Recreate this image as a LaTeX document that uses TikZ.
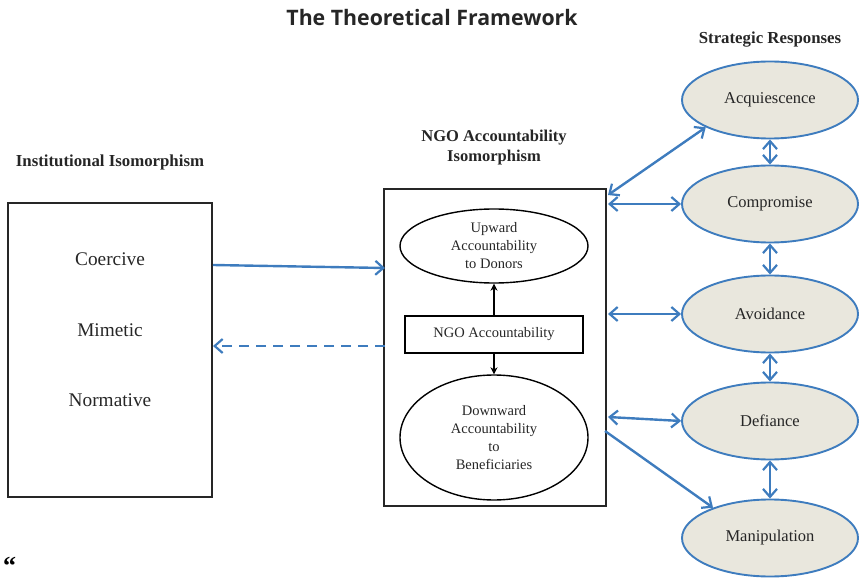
\documentclass[tikz,border=0pt]{standalone}
\usepackage{fontspec}
\setmainfont{Liberation Serif}
\newfontfamily\titlefont{Open Sans}
\usetikzlibrary{arrows.meta,shapes.geometric}
\definecolor{lineblue}{RGB}{62,124,190}
\definecolor{beige}{RGB}{233,231,221}
\tikzset{
  barb/.tip={Straight Barb[length=8pt,width=14pt,line width=2.2pt]},
  bluearrow/.style={draw=lineblue,line width=2.4pt,-{barb}},
  bluedbl/.style={draw=lineblue,line width=2.4pt,{barb}-{barb}},
  blackarrow/.style={draw=black,line width=1.3pt,-{Stealth[length=7pt,width=7pt]}},
  resp/.style={ellipse,draw=lineblue,line width=1.9pt,fill=beige,minimum width=176pt,minimum height=77pt,inner sep=0pt,font=\fontsize{16.5}{19}\selectfont,text=black!85},
  inner/.style={ellipse,draw=black,line width=1.4pt,minimum width=188pt,inner sep=0pt,align=center,font=\fontsize{14.5}{18}\selectfont,text=black!85},
  bigbox/.style={draw=black!85,line width=2.3pt},
  head/.style={font=\bfseries\fontsize{16.8}{20}\selectfont,align=center,text=black!85},
  plain/.style={font=\fontsize{19.3}{22}\selectfont,text=black!85}
}
\begin{document}
\begin{tikzpicture}[x=1pt,y=-1pt]
\useasboundingbox (0,0) rectangle (860,580);
% title and headers
\node[font=\titlefont\bfseries\fontsize{21.3}{24}\selectfont,text=black!85] (title) at (432,18) {The Theoretical Framework};
\node[head] (sr) at (770,40) {Strategic Responses};
\node[head] (ii) at (110,162) {Institutional Isomorphism};
\node[head,font=\bfseries\fontsize{16.5}{20}\selectfont] (ngoh) at (494,148) {NGO Accountability\\Isomorphism};
% left box
\draw[bigbox] (8,203) rectangle (212,497);
\coordinate (lbR1) at (213,265);
\coordinate (lbR2) at (213,346);
\node[plain] (coe) at (110,259) {Coercive};
\node[plain] (mim) at (110,330) {Mimetic};
\node[plain] (nor) at (110,400) {Normative};
% middle box
\draw[bigbox] (384,189) rectangle (606,506);
\coordinate (mbL1) at (385,268);
\coordinate (mbL2) at (385,346);
\node[inner,minimum height=74pt] (up) at (494,246) {Upward\\Accountability\\to Donors};
\node[draw=black,line width=1.4pt,minimum width=178pt,minimum height=37pt,inner sep=0pt,font=\fontsize{14.5}{18}\selectfont,text=black!85] (ngo) at (494,334.5) {NGO Accountability};
\node[inner,minimum height=125pt] (down) at (494,437.5) {Downward\\Accountability\\to\\Beneficiaries};
\draw[blackarrow] (ngo.north) -- (up.south);
\draw[blackarrow] (ngo.south) -- (down.north);
% responses
\node[resp] (acq) at (770,100) {Acquiescence};
\node[resp] (com) at (770,204) {Compromise};
\node[resp] (avo) at (770,314) {Avoidance};
\node[resp] (def) at (770,421) {Defiance};
\node[resp] (man) at (770,538) {Manipulation};
\draw[bluedbl] (acq.south) -- (com.north);
\draw[bluedbl] (com.south) -- (avo.north);
\draw[bluedbl] (avo.south) -- (def.north);
\draw[bluedbl] (def.south) -- (man.north);
% connectors from middle box
\coordinate (m1) at (608,195);
\coordinate (m2) at (608,204);
\coordinate (m3) at (608,314);
\coordinate (m4) at (608,417);
\coordinate (m5) at (605,431);
\draw[bluedbl] (m1) -- (acq.-157);
\draw[bluedbl] (m2) -- (com.west);
\draw[bluedbl] (m3) -- (avo.west);
\draw[bluedbl] (m4) -- (def.west);
\draw[bluearrow] (m5) -- (man.152);
% left-middle connectors
\draw[bluearrow] (lbR1) -- (mbL1);
\draw[bluearrow,dashed,dash pattern=on 10pt off 7pt] (mbL2) -- (lbR2);
% corner mark
\node[font=\bfseries\fontsize{26}{26}\selectfont,inner sep=0pt,anchor=south west] (mark) at (3,575) {``};
\end{tikzpicture}
\end{document}
